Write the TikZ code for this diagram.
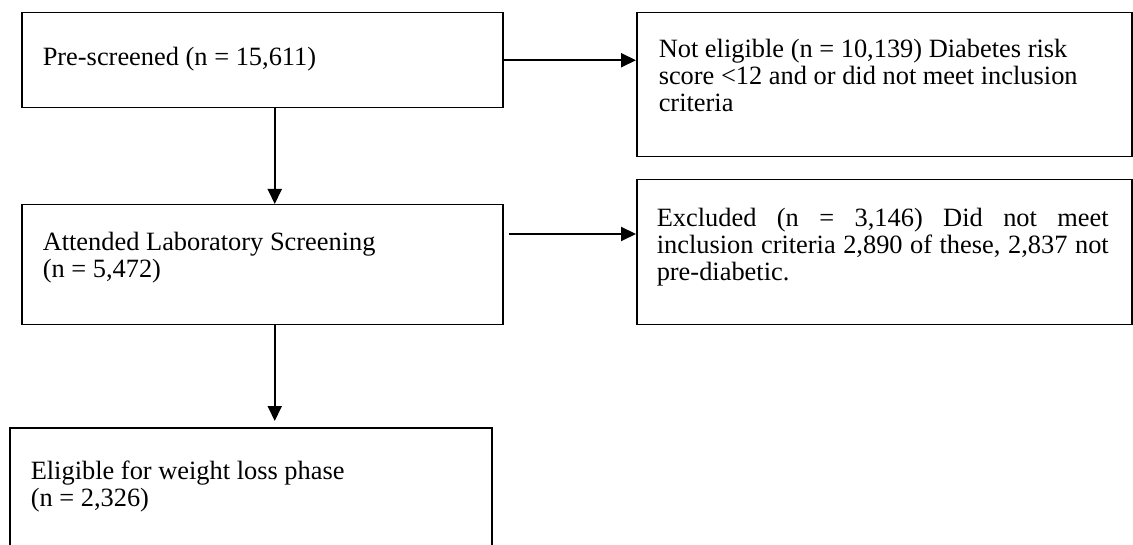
\documentclass[tikz,border=0pt]{standalone}
\usepackage{fontspec}
\setmainfont{Liberation Serif}
\usepackage{tikz}
\usetikzlibrary{arrows.meta}

% text set at the top of a box: #1 text width, #2 box height, #3 first baseline, #4 text
\newcommand{\boxtext}[4]{\parbox[t][#2][t]{#1}{\vspace*{\dimexpr#3-0.7\baselineskip\relax}\strut #4}}

\tikzset{
  flowbox/.style={draw, line width=1.5pt, anchor=north west, inner xsep=21pt, inner ysep=0pt,
    font=\fontsize{26.4}{27}\selectfont},
  flowarrow/.style={->, line width=2pt}
}

\begin{document}
\begin{tikzpicture}[x=1pt,y=-1pt,>={Triangle[length=15pt,width=14pt]}]
  \hbadness=10000
  \useasboundingbox (0,0) rectangle (1133,545);

  \node[flowbox] (prescreen) at (21,12)
    {\boxtext{439pt}{95pt}{53pt}{\raggedright Pre-screened (n = 15,611)}};
  \node[flowbox, inner xsep=22pt] (noteligible) at (636,12)
    {\boxtext{451pt}{144pt}{45pt}{\raggedright Not eligible (n = 10,139) Diabetes risk\\
      score <12 and or did not meet inclusion\\ criteria}};
  \node[flowbox] (attended) at (21,204)
    {\boxtext{439pt}{120pt}{46pt}{\raggedright Attended Laboratory Screening\\ (n = 5,472)}};
  \node[flowbox, inner xsep=0pt] (excluded) at (636,179)
    {\hspace*{20pt}\boxtext{452pt}{145pt}{47pt}{Excluded (n = 3,146) Did not meet\linebreak
      inclusion criteria 2,890 of these, 2,837 not\linebreak pre-diabetic.}\hspace*{23pt}};
  % bottom edge lies below the page
  \node[flowbox] (eligible) at (9,427)
    {\boxtext{440pt}{143pt}{52pt}{\raggedright Eligible for weight loss phase\\ (n = 2,326)}};

  \coordinate (labout) at ([xshift=5pt,yshift=-30pt]attended.north east);

  \draw[flowarrow] (prescreen.east) -- (prescreen.east -| noteligible.west);
  \draw[flowarrow] ([xshift=12.5pt]prescreen.south) -- ([xshift=12.5pt]attended.north);
  \draw[flowarrow] (labout) -- (labout -| excluded.west);
  \draw[flowarrow, shorten >=6pt] ([xshift=12.5pt]attended.south) -- ([xshift=12.5pt]attended.south |- eligible.north);
\end{tikzpicture}
\end{document}
